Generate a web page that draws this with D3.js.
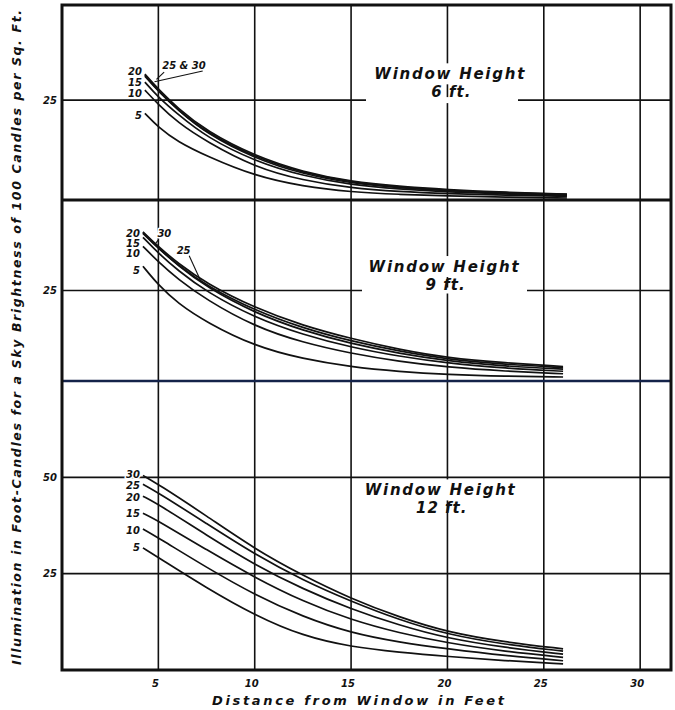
<!DOCTYPE html>
<html>
<head>
<meta charset="utf-8">
<script src="https://cdn.jsdelivr.net/npm/d3@7"></script>
<style>
body{margin:0;background:#fff}
svg text{font-family:"DejaVu Sans",sans-serif;font-weight:bold;font-style:italic;fill:#111}
</style>
</head>
<body>
<svg class="svg" width="675" height="710"></svg>
<script>
// room widths (curve labels)
var widths = [5, 10, 15, 20, 25, 30];
var xTicks = [5, 10, 15, 20, 25, 30];

// window height 6 ft
var dist6 = [4.3, 5, 6, 7.5, 10, 12.5, 15, 17.5, 20, 23, 26.2];
var ill6 = [
    [21.7, 18.2, 14.6, 11.0, 6.0, 3.4, 2.0, 1.4, 1.0, 0.7, 0.5],
    [27.5, 23.9, 19.4, 14.6, 8.2, 4.9, 3.0, 2.1, 1.6, 1.2, 0.9],
    [29.5, 25.7, 21.5, 15.7, 9.7, 6.0, 3.8, 2.7, 2.0, 1.5, 1.1],
    [31.3, 27.3, 22.6, 16.6, 10.4, 6.5, 4.2, 3.0, 2.3, 1.7, 1.3],
    [31.0, 27.2, 22.6, 16.8, 10.7, 6.8, 4.4, 3.2, 2.4, 1.8, 1.4],
    [31.5, 27.7, 23.0, 17.2, 11.0, 7.0, 4.6, 3.4, 2.6, 1.9, 1.5]
];
// window height 9 ft
var dist9 = [4.2, 5, 6, 7.5, 10, 12.5, 15, 17.5, 20, 23, 26];
var ill9 = [
    [31.7, 26.5, 21.5, 16.2, 9.6, 6.1, 3.9, 2.6, 1.8, 1.3, 1.1],
    [37.2, 32.9, 28.2, 22.4, 15.0, 10.6, 7.6, 5.4, 3.8, 2.7, 2.0],
    [39.7, 35.3, 30.6, 24.6, 17.5, 12.8, 9.3, 6.8, 4.9, 3.5, 2.7],
    [41.0, 36.7, 32.0, 25.9, 18.8, 13.9, 10.3, 7.6, 5.5, 4.1, 3.3],
    [40.8, 36.6, 32.1, 26.3, 19.5, 14.6, 11.0, 8.2, 6.0, 4.6, 3.7],
    [41.2, 37.1, 32.6, 26.9, 20.2, 15.3, 11.7, 8.7, 6.4, 5.0, 4.0]
];
// window height 12 ft
var dist12 = [4.2, 5, 7.5, 10, 12.5, 15, 17.5, 20, 23, 26];
var ill12 = [
    [31.7, 29.2, 21.3, 14.2, 8.8, 6.0, 4.6, 3.5, 2.4, 1.6],
    [36.6, 34.3, 26.6, 19.5, 13.8, 9.6, 7.2, 5.5, 3.7, 2.4],
    [40.7, 38.7, 31.2, 24.0, 17.8, 13.0, 9.6, 7.0, 4.8, 3.3],
    [45.1, 43.0, 35.0, 27.3, 21.0, 15.8, 11.6, 8.2, 5.8, 4.1],
    [48.2, 46.0, 38.0, 30.0, 23.3, 17.8, 13.0, 9.2, 6.6, 4.9],
    [50.5, 48.2, 40.0, 31.4, 24.5, 18.5, 13.7, 9.8, 7.2, 5.5]
];
var yTicks6 = [25], yTicks9 = [25], yTicks12 = [25, 50];

var svg = d3.select(".svg");
var fLeft = 62, fRight = 671, fTop = 5, fBottom = 670;
var x = d3.scaleLinear().domain([0, 31.6]).range([fLeft, fRight]);

var panels = [
    {dist: dist6, ill: ill6, ticks: yTicks6, title: "6 ft.",
     y: d3.scaleLinear().domain([0, 48.8]).range([200, fTop]), tx: 20.1, tv: 30.2,
     startLabels: [0, 1, 2, 3], labelDy: [6, 7, 4, 0]},
    {dist: dist9, ill: ill9, ticks: yTicks9, title: "9 ft.",
     y: d3.scaleLinear().domain([0, 50]).range([381, 200]), tx: 19.8, tv: 30.1,
     startLabels: [0, 1, 2, 3], labelDy: [8, 10.5, 10, 4.5]},
    {dist: dist12, ill: ill12, ticks: yTicks12, title: "12 ft.",
     y: d3.scaleLinear().domain([0, 75]).range([fBottom, 381]), tx: 19.6, tv: 45.3,
     startLabels: [0, 1, 2, 3, 4, 5], labelDy: [3, 5, 4, 5, 5, 3]}
];

var grid = svg.append("g").attr("class", "grid").attr("stroke", "#111");
// vertical grid
grid.selectAll("line.v").data(xTicks).enter().append("line")
    .attr("x1", d => x(d)).attr("x2", d => x(d))
    .attr("y1", fTop).attr("y2", fBottom).attr("stroke-width", 1.6);
panels.forEach(function(p){
    grid.selectAll(null).data(p.ticks).enter().append("line")
        .attr("x1", fLeft).attr("x2", fRight)
        .attr("y1", d => p.y(d)).attr("y2", d => p.y(d)).attr("stroke-width", 1.6);
});
// panel separators
[panels[0].y(0), panels[1].y(0)].forEach(function(v, i){
    grid.append("line").attr("x1", fLeft).attr("x2", fRight).attr("y1", v).attr("y2", v)
        .attr("stroke-width", i == 0 ? 3 : 2.6).attr("stroke", i == 0 ? "#111" : "#14234a");
});
svg.append("rect").attr("x", fLeft).attr("y", fTop).attr("width", fRight - fLeft).attr("height", fBottom - fTop)
    .attr("fill", "none").attr("stroke", "#111").attr("stroke-width", 3);

// panel titles
var gTitle = svg.append("g").attr("class", "titles");
// gaps in the horizontal rule next to the titles
gTitle.append("rect").attr("fill", "#fff").attr("x", 366).attr("y", panels[0].y(25) - 3).attr("width", 152).attr("height", 6);
gTitle.append("rect").attr("fill", "#fff").attr("x", 362).attr("y", panels[1].y(25) - 3).attr("width", 165).attr("height", 6);
panels.forEach(function(p){
    var cx = x(p.tx), by = p.y(p.tv);
    var bg = gTitle.append("rect").attr("fill", "#fff");
    var t1 = gTitle.append("text").attr("x", cx).attr("y", by).attr("text-anchor", "middle")
        .style("font-size", "15px").attr("textLength", 150).attr("lengthAdjust", "spacing").text("Window Height");
    gTitle.append("text").attr("x", cx + 2).attr("y", by + 18).attr("text-anchor", "middle")
        .style("font-size", "15px").style("letter-spacing", "1px").text(p.title);
    var b = t1.node().getBBox();
    bg.attr("x", b.x - 8).attr("y", b.y - 2).attr("width", b.width + 16).attr("height", b.height + 3);
});

// curves
var gCurve = svg.append("g").attr("class", "curves");
panels.forEach(function(p){
    var line = d3.line().x(d => x(d[0])).y(d => p.y(d[1])).curve(d3.curveBasis);
    gCurve.selectAll(null).data(p.ill).enter().append("path")
        .attr("d", function(d){ return line(d.map((v, i) => [p.dist[i], v])); })
        .attr("fill", "none").attr("stroke", "#111").attr("stroke-width", 1.7);
});

// curve labels
var gLab = svg.append("g").attr("class", "curve-labels").style("font-size", "10px");
function label(px, py, txt, anchor){
    return gLab.append("text").attr("x", px).attr("y", py).attr("text-anchor", anchor || "end")
        .attr("stroke", "#fff").attr("stroke-width", 3).attr("paint-order", "stroke").text(txt);
}
panels.forEach(function(p){
    p.startLabels.forEach(function(ci, k){
        label(x(p.dist[0]) - 3, p.y(p.ill[ci][0]) + p.labelDy[k], widths[ci]);
    });
});
// leader notes
function leader(p, x1, v1, x2, v2){
    gLab.append("line").attr("x1", x(x1)).attr("y1", p.y(v1)).attr("x2", x(x2)).attr("y2", p.y(v2))
        .attr("stroke", "#111").attr("stroke-width", 1.1);
}
label(x(5.2), panels[0].y(32.8), widths[4] + " & " + widths[5], "start");
leader(panels[0], 7.3, 32.3, 4.8, 29.6);
leader(panels[0], 5.3, 32.0, 4.9, 30.2);
label(x(4.95), panels[1].y(39.8), widths[5], "start");
leader(panels[1], 5.0, 39.0, 4.8, 37.6);
label(x(5.95), panels[1].y(35.2), widths[4], "start");
leader(panels[1], 6.6, 34.6, 7.2, 27.6);

// tick labels
var gTick = svg.append("g").attr("class", "ticks").style("font-size", "10px");
gTick.selectAll(null).data(xTicks).enter().append("text")
    .attr("x", d => x(d) - 3).attr("y", fBottom + 17).attr("text-anchor", "middle").text(d => d);
panels.forEach(function(p){
    gTick.selectAll(null).data(p.ticks).enter().append("text")
        .attr("x", fLeft - 5).attr("y", d => p.y(d)).attr("dy", "0.35em").attr("text-anchor", "end").text(d => d);
});

// axis titles
svg.append("text").attr("transform", "translate(21," + ((fTop + fBottom) / 2) + ") rotate(-90)")
    .attr("text-anchor", "middle").style("font-size", "12.5px")
    .attr("textLength", 655).attr("lengthAdjust", "spacing")
    .text("Illumination in Foot-Candles for a Sky Brightness of 100 Candles per Sq. Ft.");
svg.append("text").attr("x", 358).attr("y", 705).attr("text-anchor", "middle").style("font-size", "13px")
    .attr("textLength", 292).attr("lengthAdjust", "spacing").text("Distance from Window in Feet");
</script>
</body>
</html>
